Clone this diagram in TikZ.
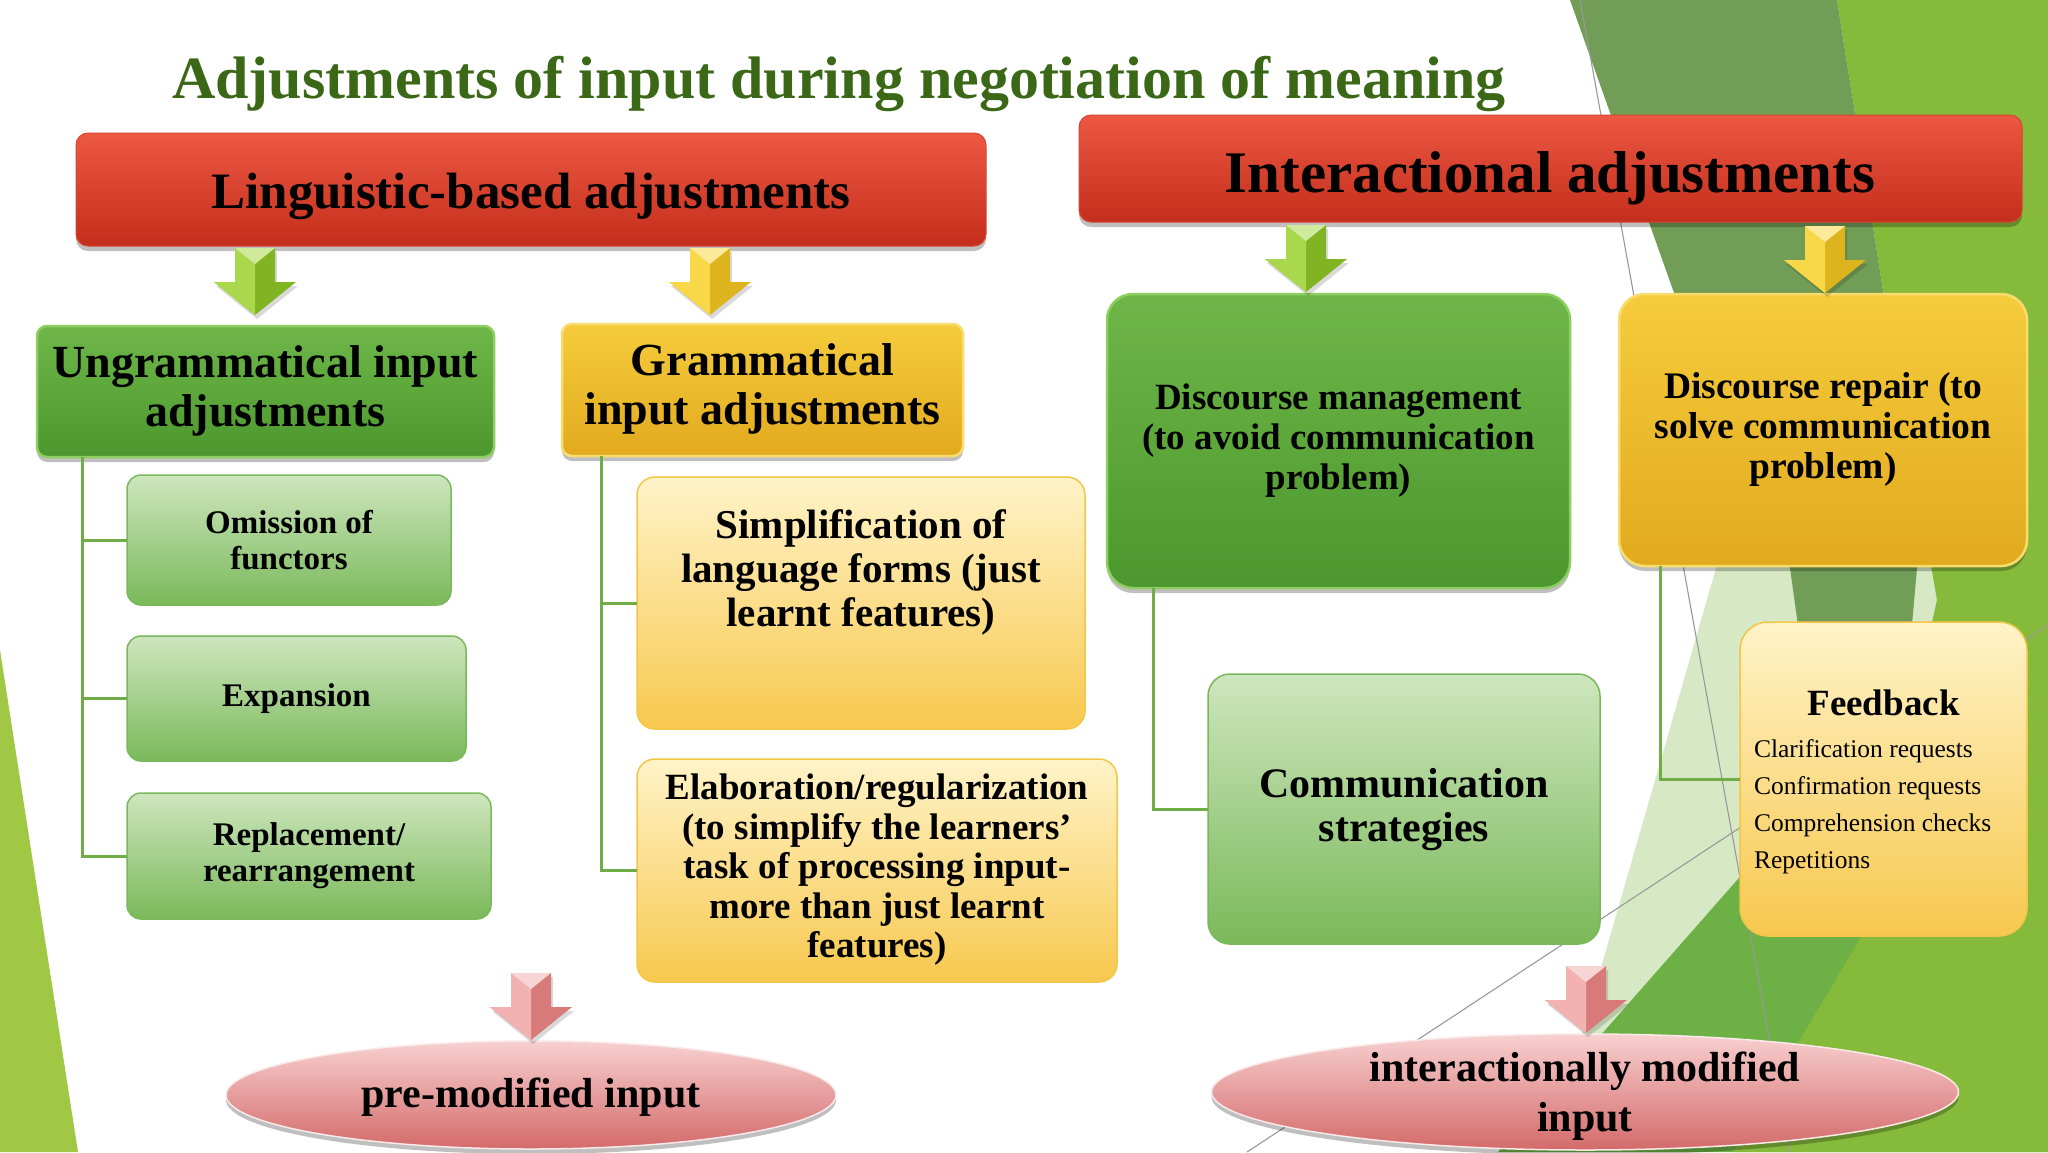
\documentclass[tikz,border=0pt]{standalone}
\usepackage{fontspec}
\setmainfont{Liberation Serif}
\usetikzlibrary{shapes.geometric,shadows}
\definecolor{titlegreen}{RGB}{59,104,22}
\definecolor{hdrT}{RGB}{236,88,66}
\definecolor{hdrB}{RGB}{196,46,28}
\definecolor{hdrE}{RGB}{214,70,50}
\definecolor{dgT}{RGB}{110,182,72}
\definecolor{dgB}{RGB}{76,152,46}
\definecolor{dgE}{RGB}{140,206,96}
\definecolor{gdT}{RGB}{245,204,60}
\definecolor{gdB}{RGB}{226,170,30}
\definecolor{gdE}{RGB}{248,220,110}
\definecolor{lgT}{RGB}{206,230,190}
\definecolor{lgB}{RGB}{122,185,90}
\definecolor{lgE}{RGB}{122,184,92}
\definecolor{lyT}{RGB}{255,243,200}
\definecolor{lyB}{RGB}{247,200,78}
\definecolor{lyE}{RGB}{243,198,72}
\definecolor{pkT}{RGB}{248,208,208}
\definecolor{pkB}{RGB}{212,106,106}
\definecolor{connc}{RGB}{112,173,71}
\definecolor{bgD}{RGB}{114,157,87}
\definecolor{bgY}{RGB}{134,186,58}
\definecolor{bgG}{RGB}{109,176,70}
\definecolor{bgP}{RGB}{214,233,196}
\definecolor{bgL}{RGB}{160,200,68}
\definecolor{agL}{RGB}{170,216,76}
\definecolor{agD}{RGB}{128,180,34}
\definecolor{ayL}{RGB}{248,216,72}
\definecolor{ayD}{RGB}{222,180,30}
\definecolor{apL}{RGB}{242,178,178}
\definecolor{apD}{RGB}{216,122,122}
\newcommand\fsz[2]{\fontsize{#1}{#2}\selectfont}
\newcommand\blkarrow[5]{%
  \begin{scope}[shift={(#2,#3)}]
    \coordinate (#1) at (0,0);
    \fill[black,opacity=0.15] (-18,4) -- (22,4) -- (22,38) -- (43,38) -- (2,71) -- (-39,38) -- (-18,38) -- cycle;
    \fill[#5] (-20,0) -- (20,0) -- (20,34) -- (41,34) -- (0,67) -- (-41,34) -- (-20,34) -- cycle;
    \fill[#4] (-20,0) -- (0,0) -- (0,67) -- (-41,34) -- (-20,34) -- cycle;
    \fill[#4!55!white] (-20,0) -- (20,0) -- (0,16) -- cycle;
  \end{scope}}
\begin{document}
\begin{tikzpicture}[x=1pt,y=-1pt,
  every node/.style={inner sep=0pt,outer sep=0pt},
  shd/.style={drop shadow={shadow xshift=0pt,shadow yshift=-5pt,opacity=0.25,fill=black}},
  hdr/.style={rectangle,rounded corners=12pt,top color=hdrT,bottom color=hdrB,draw=hdrE,line width=1pt,shd},
  dgbox/.style={rectangle,rounded corners=#1,top color=dgT,bottom color=dgB,draw=dgE,line width=2.5pt,shd},
  dgbox/.default=10pt,
  gdbox/.style={rectangle,rounded corners=#1,top color=gdT,bottom color=gdB,draw=gdE,line width=2.5pt,shd},
  gdbox/.default=10pt,
  lgbox/.style={rectangle,rounded corners=#1,top color=lgT,bottom color=lgB,draw=lgE,line width=1.5pt},
  lgbox/.default=14pt,
  lybox/.style={rectangle,rounded corners=#1,top color=lyT,bottom color=lyB,draw=lyE,line width=1.5pt},
  lybox/.default=18pt,
  pkell/.style={ellipse,top color=pkT,bottom color=pkB,draw=white!85!pkB,line width=1.5pt,shd},
  lnk/.style={draw=connc,line width=3pt},
  btxt/.style={align=center},
  thinl/.style={draw=black!40,line width=1.1pt}
]
\useasboundingbox (0,0) rectangle (2048,1152);
\fill[white] (0,0) rectangle (2048,1152);
% background decoration
\fill[bgL] (0,650) -- (78,1152) -- (0,1152) -- cycle;
\fill[bgP] (1750,450) -- (1990,450) -- (1990,800) -- (1548,1152) -- cycle;
\fill[bgG] (1498,1152) -- (1738,879) -- (1965,622) -- (2048,560) -- (2048,1152) -- cycle;
\fill[bgY] (1837,0) -- (2048,0) -- (2048,1152) -- (1733,1152) -- (1860,939) -- (1937,600) -- (1883,290) -- cycle;
\fill[bgD] (1570,0) -- (1837,0) -- (1883,290) -- (1917,568) -- (1900,760) -- (1800,640) -- (1790,568) -- (1673,290) -- cycle;
\coordinate (l1a) at (1580,0);
\coordinate (l1b) at (1790,1152);
\coordinate (l2a) at (1247,1152);
\coordinate (l2b) at (2048,625);
\draw[thinl] (l1a) -- (l1b);
\draw[thinl] (l2a) -- (l2b);

% title
\node[anchor=base,text=titlegreen,font=\fsz{60}{66}\bfseries] (title) at (839,98) {Adjustments of input during negotiation of meaning};

% boxes
\node[hdr,minimum width=910pt,minimum height=113pt] (h1) at (531,189.5) {};
\node[hdr,minimum width=943pt,minimum height=107pt] (h2) at (1550.5,168.5) {};
\node[dgbox,minimum width=457pt,minimum height=131pt] (ug) at (265.5,391.5) {};
\node[gdbox,minimum width=401pt,minimum height=132pt] (gr) at (762.5,390) {};
\node[lgbox,minimum width=324pt,minimum height=130pt] (om) at (289,540) {};
\node[lgbox,minimum width=339pt,minimum height=125pt] (ex) at (296.5,698.5) {};
\node[lgbox,minimum width=364pt,minimum height=126pt] (rp) at (309,856) {};
\node[lybox,minimum width=448pt,minimum height=252pt] (sm) at (861,603) {};
\node[lybox,minimum width=480pt,minimum height=223pt] (el) at (877,870.5) {};
\node[dgbox=26pt,minimum width=463pt,minimum height=294pt] (dm) at (1338.5,441) {};
\node[gdbox=26pt,minimum width=408pt,minimum height=272pt] (dr) at (1823,430) {};
\node[lgbox=22pt,minimum width=392pt,minimum height=270pt] (cs) at (1404,809) {};
\node[lybox=28pt,minimum width=287pt,minimum height=314pt] (fb) at (1883.5,779) {};
\node[pkell,minimum width=610pt,minimum height=108pt] (e1) at (531,1095) {};
\node[pkell,minimum width=747pt,minimum height=116pt] (e2) at (1585,1092) {};

% connectors
\draw[lnk] ([xshift=45pt]ug.south west) |- (om.west);
\draw[lnk] ([xshift=45pt]ug.south west) |- (ex.west);
\draw[lnk] ([xshift=45pt]ug.south west) |- (rp.west);
\draw[lnk] ([xshift=39pt]gr.south west) |- (sm.west);
\draw[lnk] ([xshift=39pt]gr.south west) |- (el.west);
\draw[lnk] ([xshift=46pt]dm.south west) |- (cs.west);
\draw[lnk] ([xshift=41pt]dr.south west) |- (fb.west);

% block arrows
\blkarrow{a1}{255}{248}{agL}{agD}
\blkarrow{a2}{710}{248}{ayL}{ayD}
\blkarrow{a3}{1306}{225}{agL}{agD}
\blkarrow{a4}{1825}{226}{ayL}{ayD}
\blkarrow{a5}{531}{973}{apL}{apD}
\blkarrow{a6}{1586}{966}{apL}{apD}

% texts
\node[anchor=base,font=\fsz{51}{55}\bfseries] (h1t) at (531,208) {Linguistic-based adjustments};
\node[anchor=base,font=\fsz{59}{63}\bfseries] (h2t) at (1550,192) {Interactional adjustments};
\node[btxt,font=\fsz{46}{49}\bfseries] (ugt) at (265.5,390.5) {Ungrammatical input\\adjustments};
\node[btxt,font=\fsz{46}{49}\bfseries] (grt) at (762.5,389) {Grammatical\\input adjustments};
\node[btxt,font=\fsz{33}{36}\bfseries] (omt) at (289,540) {Omission of\\functors};
\node[btxt,font=\fsz{33}{36}\bfseries] (ext) at (296.5,699) {Expansion};
\node[btxt,font=\fsz{33}{36}\bfseries] (rpt) at (309,856) {Replacement/\\rearrangement};
\node[btxt,font=\fsz{41}{44}\bfseries] (smt) at (861,572.5) {Simplification of\\language forms (just\\learnt features)};
\node[btxt,font=\fsz{37}{39.5}\bfseries] (elt) at (877,870) {Elaboration/regularization\\(to simplify the learners’\\task of processing input-\\more than just learnt\\features)};
\node[btxt,font=\fsz{37}{40}\bfseries] (dmt) at (1338.5,441) {Discourse management\\(to avoid communication\\problem)};
\node[btxt,font=\fsz{37.5}{40}\bfseries] (drt) at (1823,429) {Discourse repair (to\\solve communication\\problem)};
\node[btxt,font=\fsz{42}{44}\bfseries] (cst) at (1404,810) {Communication\\strategies};
\node[font=\fsz{37}{40}\bfseries] (fbt) at (1883.5,703) {Feedback};
\node[anchor=west,align=left,font=\fsz{25.5}{37}] (fbl) at (1754,806.5) {Clarification requests\\Confirmation requests\\Comprehension checks\\Repetitions};
\node[font=\fsz{42}{46}\bfseries] (e1t) at (531,1097) {pre-modified input};
\node[align=center,font=\fsz{42}{50}\bfseries] (e2t) at (1585,1096) {interactionally modified\\input};
\end{tikzpicture}
\end{document}
